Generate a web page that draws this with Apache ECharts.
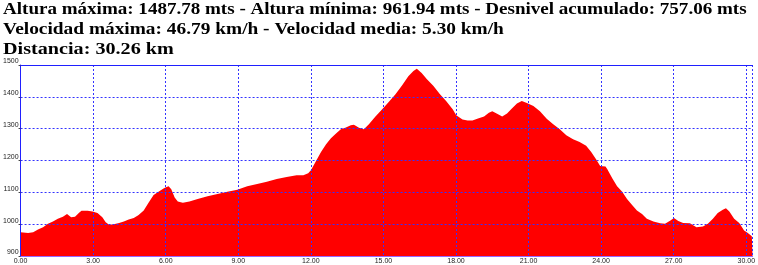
<!DOCTYPE html>
<html><head><meta charset="utf-8">
<script src="https://cdn.jsdelivr.net/npm/echarts@6/dist/echarts.min.js"></script>
<style>html,body{margin:0;padding:0;background:#fff}#c{width:758px;height:265px}</style>
</head><body><div id="c"></div>
<script>
var titleLines = [
  "Altura máxima: 1487.78 mts - Altura mínima: 961.94 mts - Desnivel acumulado: 757.06 mts",
  "Velocidad máxima: 46.79 km/h - Velocidad media: 5.30 km/h",
  "Distancia: 30.26 km"
];
var distanceKm = [0,0.31,0.52,0.72,0.93,1.13,1.34,1.54,1.75,1.92,2.09,2.25,2.43,2.52,2.77,2.97,3.18,3.38,3.52,3.66,3.86,4.07,4.27,4.47,4.68,4.88,5.09,5.29,5.50,5.70,5.91,6.01,6.12,6.23,6.37,6.50,6.71,6.98,7.32,7.73,8.14,8.55,8.96,9.37,9.78,10.18,10.59,11.0,11.41,11.69,11.89,12.01,12.22,12.42,12.63,12.83,13.04,13.24,13.45,13.65,13.78,13.99,14.19,14.40,14.67,14.94,15.21,15.49,15.76,16.03,16.24,16.38,16.58,16.79,17.06,17.33,17.60,17.87,18.01,18.27,18.48,18.68,18.88,19.16,19.36,19.50,19.70,19.91,20.11,20.31,20.52,20.72,20.93,21.20,21.47,21.75,22.02,22.29,22.56,22.84,23.11,23.38,23.59,23.79,23.96,24.18,24.25,24.46,24.66,24.87,25.07,25.28,25.48,25.69,25.89,26.16,26.44,26.64,26.85,27.01,27.19,27.39,27.67,27.94,28.21,28.41,28.62,28.82,29.03,29.16,29.30,29.50,29.71,29.91,30.05,30.23,30.26];
var elevationM = [975,972,975,983,990,1001,1008,1017,1023,1032,1022,1023,1037,1042,1042,1040,1035,1022,1006,998,1000,1004,1008,1015,1019,1029,1043,1067,1092,1102,1112,1116,1119,1110,1084,1071,1067,1071,1079,1088,1095,1102,1108,1119,1126,1133,1142,1148,1154,1154,1160,1170,1199,1227,1251,1270,1285,1298,1304,1311,1312,1303,1298,1314,1338,1360,1383,1407,1435,1465,1481,1488,1475,1456,1435,1409,1386,1360,1342,1329,1326,1326,1331,1338,1350,1355,1347,1338,1348,1363,1379,1387,1381,1371,1355,1331,1314,1298,1279,1267,1258,1246,1227,1204,1183,1181,1173,1144,1119,1102,1079,1060,1043,1032,1017,1008,1003,1001,1011,1019,1010,1004,1003,990,993,1001,1017,1035,1045,1050,1040,1017,1004,980,973,962,961];

var data = distanceKm.map(function(d,i){return [d, elevationM[i]];});
var chart = echarts.init(document.getElementById('c'), null, {renderer:'canvas'});
var gridDash = {color:'#3333ff', width:1, type:[2,2]};
var titleScale = [1.19, 1.21, 1.26];
var titleGraphics = titleLines.map(function(t, i){
  return {
    type:'text', x:3, y:2 + i*20, scaleX:titleScale[i], scaleY:1,
    style:{text:t, x:0, y:0, fill:'#000', font:'bold 16px "Liberation Serif"', textVerticalAlign:'top', verticalAlign:'top'}
  };
});
chart.setOption({
  animation:false,
  backgroundColor:'#fff',
  graphic:titleGraphics,
  grid:{left:17, right:1, top:65, bottom:8, containLabel:false},
  xAxis:[{
    type:'value', min:0, max:30.26, interval:3, z:3,
    axisLine:{show:true, lineStyle:{color:'#9966ff', width:1}},
    axisTick:{show:false},
    axisLabel:{showMaxLabel:false, margin:2, fontSize:7, fontFamily:'Liberation Sans', color:'#222',
      formatter:function(v){return v.toFixed(2);}},
    splitLine:{show:true, lineStyle:gridDash}
  },{
    type:'value', position:'top', min:0, max:30.26, z:3,
    axisLine:{show:true, onZero:false, lineStyle:{color:'#2020ff', width:1}},
    axisTick:{show:false}, axisLabel:{show:false}, splitLine:{show:false}
  }],
  yAxis:{
    type:'value', min:900, max:1500, interval:100, z:3,
    axisLine:{show:true, lineStyle:{color:'#2020ff', width:1}},
    axisTick:{show:true, length:2, lineStyle:{color:'#444'}},
    axisLabel:{margin:2, fontSize:7, fontFamily:'Liberation Sans', color:'#222', verticalAlign:'bottom',
      formatter:function(v){return String(v);}},
    splitLine:{show:true, lineStyle:gridDash}
  },
  series:[{
    type:'line', data:data, showSymbol:false, symbol:'none',
    lineStyle:{width:0, color:'#ff0000'},
    itemStyle:{color:'#ff0000'},
    areaStyle:{color:'#ff0000', opacity:1},
    z:1
  }]
});
</script></body></html>
